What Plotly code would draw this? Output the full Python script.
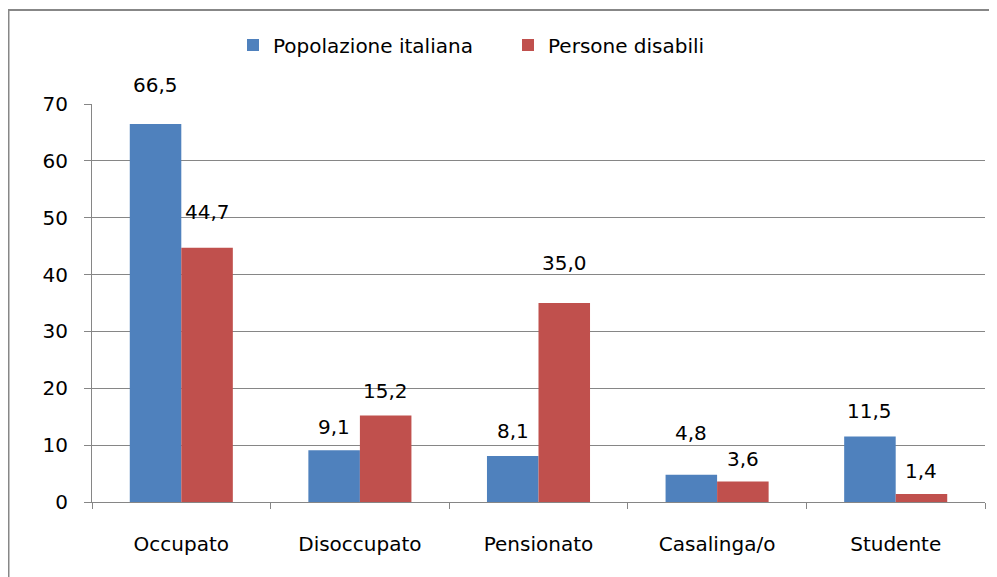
import plotly.graph_objects as go

categories = ["Occupato", "Disoccupato", "Pensionato", "Casalinga/o", "Studente"]
popolazione = [66.5, 9.1, 8.1, 4.8, 11.5]
disabili = [44.7, 15.2, 35.0, 3.6, 1.4]
series_names = ["Popolazione italiana", "Persone disabili"]
y_ticks = [0, 10, 20, 30, 40, 50, 60, 70]

# label vertical offsets (px above bar top), styling only
shift_pop = [39, 23, 25, 42, 26]
shift_dis = [36, 25, 40, 23, 23]

BLUE = "#4F81BD"
RED = "#C0504D"
GRID = "#868686"
FONT = "DejaVu Sans"
FS = 20

W, H = 997, 577
L, R, T, B = 84, 20, 96, 83
pw = W - L - R
ph = H - T - B

fig = go.Figure()
fig.add_trace(go.Bar(x=categories, y=popolazione, name=series_names[0],
                     marker=dict(color=BLUE, line=dict(width=0))))
fig.add_trace(go.Bar(x=categories, y=disabili, name=series_names[1],
                     marker=dict(color=RED, line=dict(width=0))))

bargap = 0.423
bar_px = pw / len(categories) * (1 - bargap) / 2

ann = []
for vals, shifts, xs in ((popolazione, shift_pop, -bar_px / 2), (disabili, shift_dis, bar_px / 2)):
    for c, v, s in zip(categories, vals, shifts):
        ann.append(dict(x=c, y=v, xref="x", yref="y", text=f"{v:.1f}".replace(".", ","),
                        showarrow=False, xshift=xs, yshift=s, yanchor="middle",
                        font=dict(family=FONT, size=FS, color="#000000")))

fig.update_layout(
    width=W, height=H,
    margin=dict(l=L, r=R, t=T, b=B, pad=0),
    paper_bgcolor="white", plot_bgcolor="white",
    barmode="group", bargap=bargap, bargroupgap=0,
    separators=",.",
    font=dict(family=FONT, size=FS, color="#000000"),
    showlegend=True,
    legend=dict(orientation="h", x=(225 - L) / pw, xanchor="left",
                y=(H - B - 37) / ph, yanchor="middle",
                font=dict(family=FONT, size=FS, color="#000000"),
                entrywidth=230, entrywidthmode="pixels",
                itemwidth=30, bgcolor="rgba(0,0,0,0)"),
    annotations=ann,
    shapes=[dict(type="rect", xref="paper", yref="paper",
                 x0=(0.5 - L) / pw, x1=1.1, y0=-0.5, y1=(H - B - 2) / ph,
                 line=dict(color="#878787", width=2), fillcolor="rgba(0,0,0,0)", layer="below")],
    xaxis=dict(type="category", showgrid=False, showline=True, linecolor=GRID, linewidth=1,
               ticks="outside", tickson="boundaries", ticklen=6, tickcolor=GRID,
               ticklabelstandoff=24, tickfont=dict(family=FONT, size=FS, color="#000000")),
    yaxis=dict(range=[0, 70], tickvals=y_ticks, showgrid=True, gridcolor=GRID, gridwidth=1,
               showline=True, linecolor=GRID, linewidth=1, zeroline=False,
               ticks="outside", ticklen=7, tickcolor=GRID,
               ticklabelstandoff=12, tickfont=dict(family=FONT, size=FS, color="#000000")),
)

fig.write_html("out.html")
